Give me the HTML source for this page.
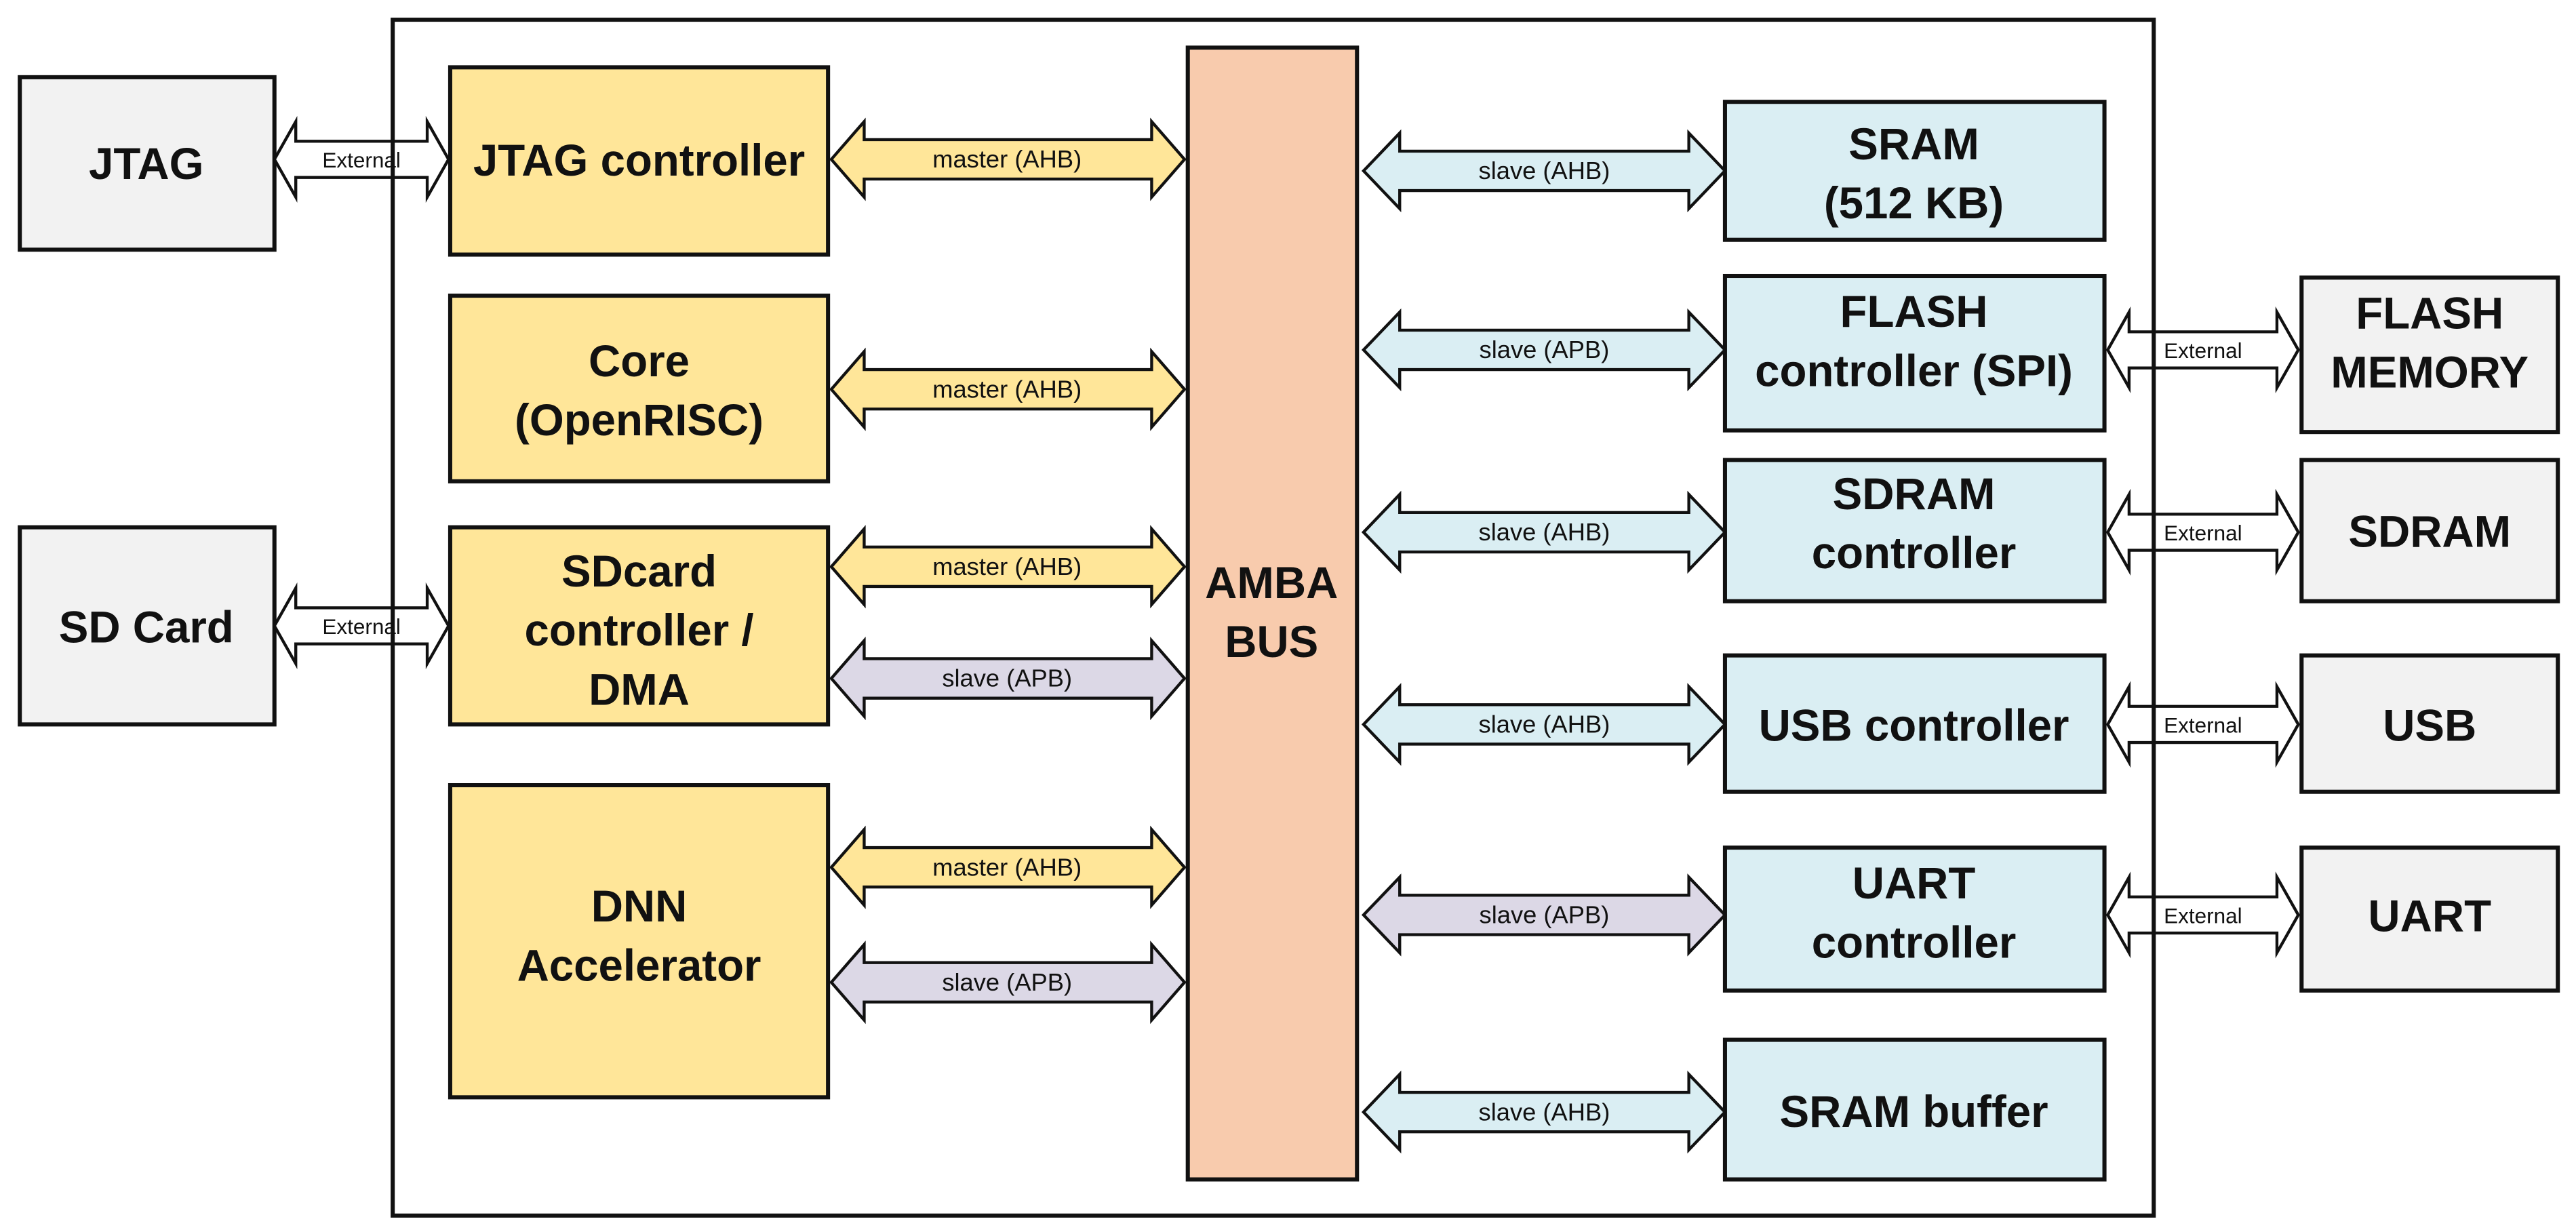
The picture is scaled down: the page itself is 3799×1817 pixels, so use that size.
<!DOCTYPE html>
<html><head><meta charset="utf-8"><style>
html,body{margin:0;padding:0;background:#fff;}
svg{display:block;}
text{font-family:"Liberation Sans",sans-serif;}
.b{font-weight:bold;font-size:27px;fill:#111;text-anchor:middle;}
.s{font-size:15px;fill:#111;text-anchor:middle;}
.e{font-size:13px;}
</style></head><body>
<svg width="3799" height="1817" viewBox="0 0 1568 750" xmlns="http://www.w3.org/2000/svg">
<g stroke="#111" stroke-width="2.5">
<rect x="12" y="47" width="155" height="105" fill="#f2f2f2"/>
<rect x="12" y="321" width="155" height="120" fill="#f2f2f2"/>
<rect x="274" y="41" width="230" height="114" fill="#ffe699"/>
<rect x="274" y="180" width="230" height="113" fill="#ffe699"/>
<rect x="274" y="321" width="230" height="120" fill="#ffe699"/>
<rect x="274" y="478" width="230" height="190" fill="#ffe699"/>
<rect x="723" y="29" width="103" height="689" fill="#f8cbad"/>
<rect x="1050" y="62" width="231" height="84" fill="#daeef3"/>
<rect x="1050" y="168" width="231" height="94" fill="#daeef3"/>
<rect x="1050" y="280" width="231" height="86" fill="#daeef3"/>
<rect x="1050" y="399" width="231" height="83" fill="#daeef3"/>
<rect x="1050" y="516" width="231" height="87" fill="#daeef3"/>
<rect x="1050" y="633" width="231" height="85" fill="#daeef3"/>
<rect x="1401" y="169" width="156" height="94" fill="#f2f2f2"/>
<rect x="1401" y="280" width="156" height="86" fill="#f2f2f2"/>
<rect x="1401" y="399" width="156" height="83" fill="#f2f2f2"/>
<rect x="1401" y="516" width="156" height="87" fill="#f2f2f2"/>
</g>
<g stroke="#111" stroke-width="1.8" stroke-linejoin="miter">
<polygon fill="#ffe699" points="506,97 526,74 526,85 701,85 701,74 721,97 701,120 701,109 526,109 526,120"/>
<polygon fill="#ffe699" points="506,237 526,214 526,225 701,225 701,214 721,237 701,260 701,249 526,249 526,260"/>
<polygon fill="#ffe699" points="506,345 526,322 526,333 701,333 701,322 721,345 701,368 701,357 526,357 526,368"/>
<polygon fill="#dcd8e6" points="506,413 526,390 526,401 701,401 701,390 721,413 701,436 701,425 526,425 526,436"/>
<polygon fill="#ffe699" points="506,528 526,505 526,516 701,516 701,505 721,528 701,551 701,540 526,540 526,551"/>
<polygon fill="#dcd8e6" points="506,598 526,575 526,586 701,586 701,575 721,598 701,621 701,610 526,610 526,621"/>
<polygon fill="#daeef3" points="830,104 852,81 852,92 1028,92 1028,81 1050,104 1028,127 1028,116 852,116 852,127"/>
<polygon fill="#daeef3" points="830,213 852,190 852,201 1028,201 1028,190 1050,213 1028,236 1028,225 852,225 852,236"/>
<polygon fill="#daeef3" points="830,324 852,301 852,312 1028,312 1028,301 1050,324 1028,347 1028,336 852,336 852,347"/>
<polygon fill="#daeef3" points="830,441 852,418 852,429 1028,429 1028,418 1050,441 1028,464 1028,453 852,453 852,464"/>
<polygon fill="#dcd8e6" points="830,557 852,534 852,545 1028,545 1028,534 1050,557 1028,580 1028,569 852,569 852,580"/>
<polygon fill="#daeef3" points="830,677 852,654 852,665 1028,665 1028,654 1050,677 1028,700 1028,689 852,689 852,700"/>
<polygon fill="#fff" points="167,97 180,74 180,86 260,86 260,74 273,97 260,120 260,108 180,108 180,120"/>
<polygon fill="#fff" points="167,381 180,358 180,370 260,370 260,358 273,381 260,404 260,392 180,392 180,404"/>
<polygon fill="#fff" points="1283,213 1296,190 1296,202 1386,202 1386,190 1399,213 1386,236 1386,224 1296,224 1296,236"/>
<polygon fill="#fff" points="1283,324 1296,301 1296,313 1386,313 1386,301 1399,324 1386,347 1386,335 1296,335 1296,347"/>
<polygon fill="#fff" points="1283,441 1296,418 1296,430 1386,430 1386,418 1399,441 1386,464 1386,452 1296,452 1296,464"/>
<polygon fill="#fff" points="1283,557 1296,534 1296,546 1386,546 1386,534 1399,557 1386,580 1386,568 1296,568 1296,580"/>
</g>
<rect x="239" y="12" width="1072" height="728" fill="none" stroke="#111" stroke-width="2.5"/>
<g class="b">
<text x="89" y="109">JTAG</text>
<text x="89" y="391">SD Card</text>
<text x="389" y="107">JTAG controller</text>
<text x="389" y="229">Core</text>
<text x="389" y="265">(OpenRISC)</text>
<text x="389" y="357">SDcard</text>
<text x="389" y="393">controller /</text>
<text x="389" y="429">DMA</text>
<text x="389" y="561">DNN</text>
<text x="389" y="597">Accelerator</text>
<text x="774" y="364">AMBA</text>
<text x="774" y="400">BUS</text>
<text x="1165" y="97">SRAM</text>
<text x="1165" y="133">(512 KB)</text>
<text x="1165" y="199">FLASH</text>
<text x="1165" y="235">controller (SPI)</text>
<text x="1165" y="310">SDRAM</text>
<text x="1165" y="346">controller</text>
<text x="1165" y="451">USB controller</text>
<text x="1165" y="547">UART</text>
<text x="1165" y="583">controller</text>
<text x="1165" y="686">SRAM buffer</text>
<text x="1479" y="200">FLASH</text>
<text x="1479" y="236">MEMORY</text>
<text x="1479" y="333">SDRAM</text>
<text x="1479" y="451">USB</text>
<text x="1479" y="567">UART</text>
</g>
<g class="s">
<text class="e" x="220" y="102">External</text>
<text class="e" x="220" y="386">External</text>
<text class="e" x="1341" y="218">External</text>
<text class="e" x="1341" y="329">External</text>
<text class="e" x="1341" y="446">External</text>
<text class="e" x="1341" y="562">External</text>
<text x="613" y="102">master (AHB)</text>
<text x="613" y="242">master (AHB)</text>
<text x="613" y="350">master (AHB)</text>
<text x="613" y="418">slave (APB)</text>
<text x="613" y="533">master (AHB)</text>
<text x="613" y="603">slave (APB)</text>
<text x="940" y="109">slave (AHB)</text>
<text x="940" y="218">slave (APB)</text>
<text x="940" y="329">slave (AHB)</text>
<text x="940" y="446">slave (AHB)</text>
<text x="940" y="562">slave (APB)</text>
<text x="940" y="682">slave (AHB)</text>
</g>
</svg>
</body></html>
